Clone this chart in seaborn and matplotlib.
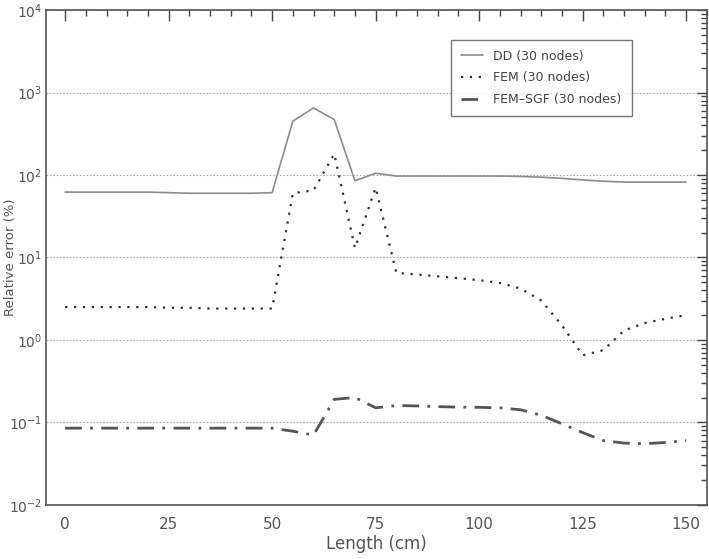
import numpy as np
import pandas as pd
import matplotlib
matplotlib.use("Agg")
import matplotlib.pyplot as plt
import seaborn as sns
from matplotlib.ticker import LogLocator, MultipleLocator, NullFormatter

length_cm = [0, 5, 10, 15, 20, 25, 30, 35, 40, 45, 50, 55, 60, 65, 70, 75, 80,
             85, 90, 95, 100, 105, 110, 115, 120, 125, 130, 135, 140, 145, 150]
dd = [62, 62, 62, 62, 62, 61, 60, 60, 60, 60, 61, 450, 650, 470, 85, 105, 97,
      97, 97, 97, 97, 97, 96, 94, 91, 87, 84, 82, 82, 82, 82]
fem = [2.5, 2.5, 2.5, 2.5, 2.5, 2.45, 2.45, 2.4, 2.4, 2.4, 2.4, 60, 65, 180, 13,
       70, 6.5, 6.2, 5.9, 5.6, 5.3, 4.9, 4.2, 3.0, 1.5, 0.65, 0.75, 1.3, 1.6, 1.8, 2.0]
fem_sgf = [0.085, 0.085, 0.085, 0.085, 0.085, 0.085, 0.085, 0.085, 0.085, 0.085,
           0.085, 0.078, 0.07, 0.19, 0.2, 0.15, 0.16, 0.158, 0.155, 0.153, 0.152,
           0.15, 0.142, 0.122, 0.096, 0.075, 0.06, 0.056, 0.055, 0.057, 0.06]
labels = ["DD (30 nodes)", "FEM (30 nodes)", "FEM\u2013SGF (30 nodes)"]

sns.set_theme(style="white")
plt.rcParams["font.family"] = ["DejaVu Sans"]

fig = plt.figure(figsize=(7.09, 5.59), dpi=100)
ax = fig.add_axes([0.065, 0.097, 0.932, 0.885])

df = pd.DataFrame({"x": length_cm, "DD": dd, "FEM": fem, "SGF": fem_sgf})
sns.lineplot(data=df, x="x", y="DD", ax=ax, color="#8c8c8c", lw=1.2,
             label=labels[0])
sns.lineplot(data=df, x="x", y="FEM", ax=ax, color="#303030", lw=1.6,
             linestyle=(0, (1, 3)), label=labels[1])
sns.lineplot(data=df, x="x", y="SGF", ax=ax, color="#555555", lw=2.0,
             linestyle=(0, (6, 3, 1, 3)), label=labels[2])

ax.set_yscale("log")
ax.set_ylim(1e-2, 1e4)
ax.set_xlim(-4.6, 155)
ax.xaxis.set_major_locator(MultipleLocator(25))
ax.xaxis.set_minor_locator(MultipleLocator(5))
ax.yaxis.set_major_locator(LogLocator(base=10, numticks=10))
ax.yaxis.set_minor_locator(LogLocator(base=10, subs=np.arange(2, 10), numticks=10))
ax.yaxis.set_minor_formatter(NullFormatter())
ax.xaxis.get_offset_text().set_visible(False)
ax.yaxis.get_offset_text().set_visible(False)

ax.tick_params(which="both", direction="in", top=True, right=True,
               colors="#444444", labelcolor="#555555", labelsize=11)
ax.tick_params(axis="x", pad=9)
ax.tick_params(axis="y", labelsize=10, pad=3)
ax.tick_params(which="major", length=8, width=1)
ax.tick_params(which="minor", length=4, width=1)
ax.tick_params(axis="y", which="major", length=7)
for s in ax.spines.values():
    s.set_color("#555555")
    s.set_linewidth(1.2)

ax.yaxis.grid(True, which="major", linestyle=(0, (1.5, 1.5)), color="#aaaaaa", lw=0.8)
ax.xaxis.grid(False)

ax.set_xlabel("Length (cm)", color="#555555", fontsize=12, labelpad=2)
ax.set_ylabel("Relative error (%)", color="#555555", fontsize=9.5)
ax.yaxis.set_label_coords(-0.044, 0.5)

leg = ax.legend(loc="upper right", bbox_to_anchor=(0.8955, 0.953), frameon=True,
                fancybox=False, fontsize=9, handlelength=1.8, borderpad=0.8,
                labelspacing=0.7, handletextpad=0.8)
leg.get_frame().set_edgecolor("#555555")
leg.get_frame().set_linewidth(1.0)
for t in leg.get_texts():
    t.set_color("#444444")

fig.savefig("out.png", dpi=100)
